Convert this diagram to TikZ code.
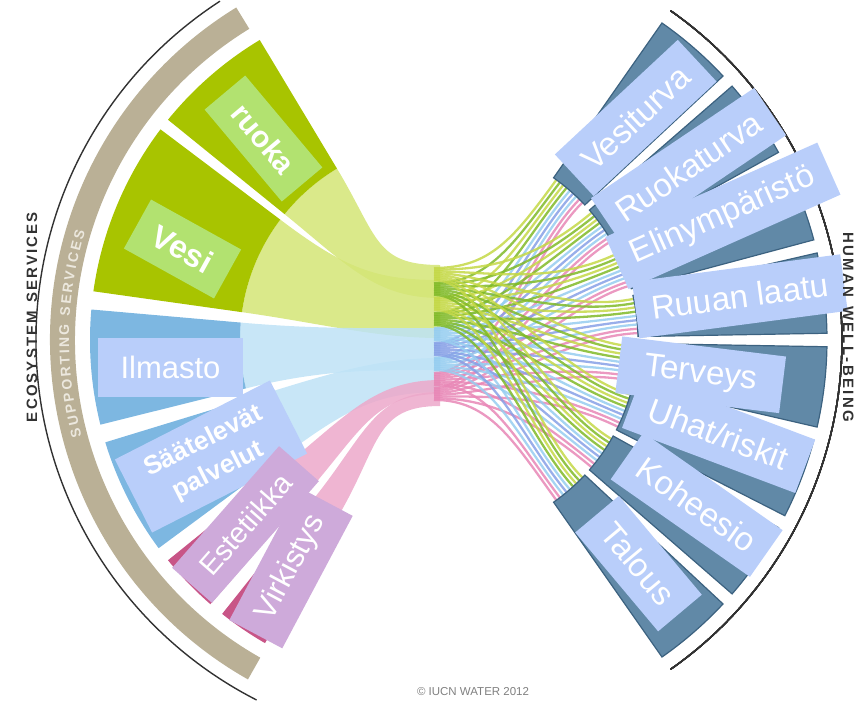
\documentclass[tikz,border=0pt]{standalone}
\usepackage{fontspec}
\setmainfont{Liberation Sans}
\usetikzlibrary{decorations.text}

\definecolor{secgreen}{RGB}{168,196,0}
\definecolor{ribgreen}{RGB}{212,229,118}
\definecolor{labgreen}{RGB}{178,226,112}
\definecolor{secblue}{RGB}{125,183,225}
\definecolor{ribblue}{RGB}{190,226,246}
\definecolor{labblue}{RGB}{185,206,250}
\definecolor{secpink}{RGB}{200,85,135}
\definecolor{ribpink}{RGB}{236,168,202}
\definecolor{labpurple}{RGB}{206,170,218}
\definecolor{secsteel}{RGB}{97,137,167}
\definecolor{steeledge}{RGB}{60,98,128}
\definecolor{tanband}{RGB}{186,176,150}
\definecolor{tantext}{RGB}{236,232,222}
\definecolor{arcgray}{RGB}{50,50,50}
\definecolor{strA}{RGB}{196,216,70}
\definecolor{strB}{RGB}{128,186,40}
\definecolor{strC}{RGB}{150,205,240}
\definecolor{strD}{RGB}{135,160,230}
\definecolor{strE}{RGB}{232,135,182}

\newcommand{\labfont}{\fontsize{33}{36}\selectfont}
\newcommand{\capsfont}{\bfseries\fontsize{15}{15}\selectfont}
\newcommand{\suppfont}{\bfseries\fontsize{14}{14}\selectfont}

% annular piece: style, from angle, to angle, inner r, outer r
\newcommand{\ringpart}[5]{\path[#1] (#2:#4) arc[start angle=#2,end angle=#3,radius=#4] -- (#3:#5) arc[start angle=#3,end angle=#2,radius=#5] -- cycle;}
% ribbon from the left ring to the neck: style, angles, neck top and bottom
\newcommand{\ribbon}[5]{\path[#1] (#2:200) .. controls (#2:120) and (-65,#4) .. (0,#4) -- (0,#5) .. controls (-65,#5) and (#3:120) .. (#3:200) arc[start angle=#3,end angle=#2,radius=200] -- cycle;}

\begin{document}
\begin{tikzpicture}[x=1pt,y=1pt,
    rib/.style={fill opacity=.85},
    strand/.style={line width=2.3pt, draw opacity=.85},
    sector/.style={fill=secsteel, draw=steeledge, line width=1.2pt},
    rlab/.style={fill=labblue, text=white, font=\labfont, minimum height=57pt, inner sep=0pt},
    llab/.style={text=white, inner sep=0pt}]
  \useasboundingbox (0,0) rectangle (865,-702);
  \clip (0,0) rectangle (865,-702);

  \begin{scope}[shift={(440,-340)}]
    % ribbons
    \ribbon{rib, fill=ribgreen}{121}{141}{75}{42}
    \ribbon{rib, fill=ribgreen}{143}{172}{60}{2}
    \ribbon{rib, fill=ribblue}{175}{194}{12}{-30}
    \ribbon{rib, fill=ribblue}{197}{216.5}{-18}{-52}
    \ribbon{rib, fill=ribpink}{219}{229}{-40}{-54}
    \ribbon{rib, fill=ribpink}{231.5}{240}{-52}{-66}

    % strands to the right
    \foreach \a [count=\j from 0] in {43,29,15,1,-13,-27,-41,-55} {
      \foreach \k/\c in {0/strA,1/strB,2/strA,3/strB,4/strC,5/strD,6/strC,7/strE,8/strE} {
        \pgfmathsetmacro\ys{72-15*\k-1.7*\j}
        \pgfmathsetmacro\t{\a+11-1.25*\k}
        \draw[strand,\c] (-6,\ys) .. controls (50,\ys) and (\t:125) .. (\t:199);
      }
    }

    % left ring
    \ringpart{fill=secgreen}{121}{141}{200}{350}
    \ringpart{fill=secgreen}{143}{172}{200}{350}
    \ringpart{fill=secblue}{175}{194}{200}{350}
    \ringpart{fill=secblue}{197}{216.5}{200}{350}
    \ringpart{fill=secpink}{219}{229}{200}{350}
    \ringpart{fill=secpink}{231.5}{240}{200}{350}
    \ringpart{fill=tanband}{121.5}{240.5}{365}{390}
    \draw[arcgray, line width=1.4pt] (123:404) arc[start angle=123,end angle=243,radius=404];

    % right ring
    \foreach \a in {43,29,15,1,-13,-27,-41,-55}
      \ringpart{sector}{\a}{\a+12}{198}{387}
    \draw[arcgray, line width=1.4pt] (-55:402) arc[start angle=-55,end angle=55,radius=402];

    \path[decorate, decoration={text along path, text align=fit to path,
      text={|\suppfont\color{tantext}|SUPPORTING SERVICES}}]
      (195:371) arc[start angle=195,end angle=163,radius=371];

    % right labels
    \node[rlab, minimum width=168pt, rotate=43] (vesiturva) at (48.6:296) {Vesiturva};
    \node[rlab, minimum width=197pt, rotate=34] (ruokaturva) at (34.9:303) {Ruokaturva};
    \node[rlab, minimum width=232pt, rotate=24] (elinymparisto) at (23.7:309) {Elinympäristö};
    \node[rlab, minimum width=210pt, rotate=7.5] (ruuanlaatu) at (8.3:303) {Ruuan laatu};
    \node[rlab, minimum width=165pt, rotate=-7] (terveys) at (-7.6:263) {Terveys};
    \node[rlab, minimum width=185pt, rotate=-20.6] (uhat) at (-18.6:294) {Uhat/riskit};
    \node[rlab, minimum width=170pt, rotate=-35] (koheesio) at (-32.7:305) {Koheesio};
    \node[rlab, minimum width=129pt, rotate=-50] (talous) at (-48.4:299) {Talous};
  \end{scope}

  % left labels
  \node[llab, fill=labgreen, minimum width=120pt, minimum height=53pt, rotate=-50,
    font=\bfseries\fontsize{30}{32}\selectfont] (ruoka) at (263.5,-138.5) {ruoka};
  \node[llab, fill=labgreen, minimum width=103pt, minimum height=56pt, rotate=-29,
    font=\bfseries\fontsize{32}{34}\selectfont] (vesi) at (182.5,-249) {Vesi};
  \node[llab, fill=labblue, minimum width=145pt, minimum height=59pt,
    font=\fontsize{31}{33}\selectfont] (ilmasto) at (170.5,-367.5) {Ilmasto};
  \node[llab, fill=labblue, minimum width=174pt, minimum height=82pt, rotate=27, align=center,
    font=\bfseries\fontsize{26}{33}\selectfont] (saatelevat) at (211,-456.5) {Säätelevät\\palvelut};
  \node[llab, fill=labpurple, minimum width=162pt, minimum height=53pt, rotate=48.7,
    font=\fontsize{29}{31}\selectfont] (estetiikka) at (245.5,-524.5) {Estetiikka};
  \node[llab, fill=labpurple, minimum width=150pt, minimum height=60pt, rotate=62,
    font=\fontsize{31}{33}\selectfont] (virkistys) at (291,-568) {Virkistys};

  % outer captions
  \path[decorate, decoration={text along path, text align=fit to path,
    text={|\capsfont\color{arcgray}|ECOSYSTEM SERVICES}}] (37,-422) -- (37,-212);
  \path[decorate, decoration={text along path, text align=fit to path,
    text={|\capsfont\color{arcgray}|HUMAN WELL-BEING}}] (843,-232) -- (843,-422);
  \node[text=gray, font=\fontsize{11.5}{12}\selectfont] (copyright) at (473,-692) {© IUCN WATER 2012};
\end{tikzpicture}
\end{document}
